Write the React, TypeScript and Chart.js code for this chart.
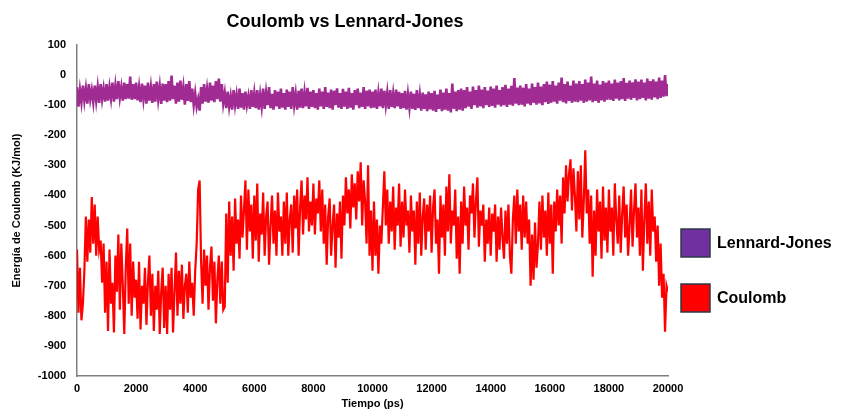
import React, { useEffect, useRef } from "react";
import { Chart, registerables } from "chart.js";

Chart.register(...registerables);

const TITLE = "Coulomb vs Lennard-Jones";
const X_TITLE = "Tiempo (ps)";
const Y_TITLE = "Energía de Coulomb (KJ/mol)";
const SERIES_NAMES = ["Lennard-Jones", "Coulomb"];
const TIME_STEP_PS = 50;

// Coulomb energy (KJ/mol), sampled every 50 ps from 0 to 20000 ps
const COULOMB: number[] = [
  -580, -790, -640, -815, -760, -650, -470, -620, -480, -590, -405, -560, -430, -600, -470, -580, -550, -690, -560, -790,
  -620, -850, -580, -760, -690, -855, -600, -720, -530, -780, -560, -700, -860, -640, -510, -760, -560, -800, -620, -740,
  -680, -810, -620, -845, -700, -760, -640, -830, -690, -600, -800, -660, -850, -700, -780, -650, -860, -720, -640, -840,
  -700, -860, -660, -780, -640, -855, -720, -590, -800, -650, -760, -630, -810, -700, -660, -790, -620, -740, -690, -800,
  -650, -560, -380, -350, -620, -760, -580, -700, -600, -780, -640, -570, -750, -620, -825, -680, -600, -760, -620, -780,
  -770, -460, -690, -420, -600, -470, -650, -410, -560, -480, -610, -400, -540, -450, -350, -580, -380, -520, -430, -610,
  -400, -550, -360, -620, -460, -530, -390, -600, -470, -420, -630, -500, -400, -560, -450, -600, -390, -520, -470, -600,
  -420, -560, -390, -600, -480, -430, -590, -400, -510, -380, -600, -440, -350, -530, -400, -480, -340, -520, -420, -500,
  -360, -530, -410, -460, -350, -520, -380, -560, -430, -630, -470, -410, -600, -500, -430, -640, -460, -540, -420, -610,
  -400, -500, -340, -460, -380, -510, -330, -440, -360, -480, -320, -420, -290, -500, -350, -420, -560, -300, -600, -450,
  -650, -420, -600, -480, -660, -500, -560, -440, -320, -500, -380, -560, -420, -520, -370, -580, -440, -500, -360, -570,
  -420, -540, -380, -500, -450, -590, -400, -520, -450, -630, -420, -560, -390, -600, -470, -410, -580, -430, -520, -400,
  -590, -440, -380, -560, -480, -660, -400, -540, -430, -600, -370, -520, -330, -560, -450, -500, -380, -610, -470, -660,
  -420, -560, -370, -500, -440, -580, -400, -460, -360, -540, -420, -340, -570, -450, -500, -430, -620, -480, -560, -440,
  -600, -460, -520, -430, -620, -470, -580, -440, -540, -610, -450, -560, -430, -600, -660, -480, -400, -560, -380, -520,
  -430, -580, -400, -540, -420, -560, -480, -700, -530, -680, -490, -640, -560, -420, -580, -400, -540, -450, -600, -390,
  -560, -430, -660, -420, -520, -380, -500, -400, -560, -340, -460, -300, -420, -330, -280, -450, -310, -400, -520, -320,
  -480, -300, -540, -420, -250, -460, -380, -560, -400, -670, -450, -600, -380, -520, -420, -610, -370, -550, -440, -590,
  -380, -520, -440, -600, -360, -480, -560, -400, -590, -460, -370, -540, -430, -600, -500, -380, -570, -450, -360, -540,
  -440, -600, -380, -650, -480, -360, -560, -420, -600, -380, -520, -470, -620, -500, -700, -560, -740, -660, -853, -700,
  -720,
];

// Lennard-Jones energy (KJ/mol), sampled every 50 ps from 0 to 20000 ps
const LENNARD_JONES: number[] = [
  -40, -105, -50, -90, -35, -85, -45, -95, -30, -80, -50, -90, -35, -85, -40, -92, -30, -80, -45, -88,
  -30, -85, -40, -78, -25, -88, -35, -80, -20, -75, -40, -85, -25, -80, -30, -78, -5, -82, -30, -80,
  -25, -84, -40, -90, -28, -80, -35, -95, -25, -85, -40, -92, -30, -88, -22, -80, -38, -96, -28, -85,
  -30, -90, -20, -85, -2, -80, -35, -95, -25, -88, -18, -82, -40, -98, -30, -86, -20, -90, -45, -100,
  -60, -105, -80, -118, -40, -95, -30, -88, -45, -92, -25, -85, -35, -90, -20, -80, -12, -88, -30, -94,
  -60, -110, -55, -105, -70, -115, -50, -100, -65, -112, -45, -108, -60, -115, -55, -100, -70, -112, -50, -106,
  -60, -110, -50, -115, -65, -105, -45, -112, -58, -100, -40, -110, -62, -115, -50, -104, -55, -112, -45, -108,
  -60, -115, -48, -106, -55, -112, -40, -100, -62, -115, -52, -108, -45, -110, -58, -104, -42, -112, -55, -106,
  -50, -110, -60, -115, -45, -104, -55, -112, -40, -106, -58, -110, -48, -115, -52, -100, -44, -108, -60, -112,
  -46, -105, -55, -112, -42, -108, -60, -115, -50, -100, -45, -110, -58, -106, -40, -112, -52, -104, -48, -110,
  -55, -108, -48, -112, -60, -104, -45, -110, -52, -100, -58, -112, -50, -106, -62, -110, -48, -104, -56, -112,
  -60, -110, -52, -115, -64, -108, -55, -112, -62, -116, -50, -110, -66, -118, -58, -112, -64, -120, -55, -114,
  -60, -118, -52, -122, -65, -112, -48, -120, -58, -115, -45, -118, -60, -124, -28, -112, -55, -120, -50, -115,
  -45, -118, -50, -110, -40, -105, -55, -112, -38, -100, -50, -108, -35, -104, -48, -110, -40, -100, -52, -106,
  -38, -102, -45, -108, -35, -98, -50, -104, -40, -100, -32, -106, -45, -98, -36, -102, -10, -95, -42, -100,
  -35, -98, -42, -104, -30, -95, -45, -100, -28, -92, -40, -98, -25, -94, -38, -100, -30, -90, -22, -96,
  -32, -92, -20, -88, -35, -95, -25, -85, -8, -90, -30, -94, -22, -86, -35, -92, -18, -88, -28, -90,
  -20, -85, -30, -92, -15, -88, -25, -84, -5, -90, -28, -86, -18, -92, -32, -84, -20, -88, -25, -82,
  -18, -82, -28, -86, -15, -78, -25, -84, -20, -80, -10, -86, -26, -78, -18, -82, -24, -76, -14, -84,
  -22, -80, -15, -76, -25, -84, -12, -78, -20, -82, -14, -74, -22, -80, -8, -76, -18, -72, 0, -70,
  -30,
];

const X_MIN = 0;
const X_MAX = 20000;
const X_STEP = 2000;
const Y_MIN = -1000;
const Y_MAX = 100;
const Y_STEP = 100;

const COLOR_LJ_LINE = "#a02b93";
const COLOR_LJ_LEGEND = "#7030a0";
const COLOR_COULOMB = "#ff0000";
const LEGEND_BORDER = "#2b3a4a";
const FONT = "'Liberation Sans', Arial, Helvetica, sans-serif";

const toPoints = (vals: number[]) => vals.map((v, i) => ({ x: i * TIME_STEP_PS, y: v }));

const overlayPlugin = {
  id: "overlay",
  afterDraw(chart: any) {
    const { ctx, chartArea } = chart;
    ctx.save();
    // title
    ctx.fillStyle = "#000";
    ctx.font = `bold 18px ${FONT}`;
    ctx.textAlign = "center";
    ctx.textBaseline = "middle";
    ctx.fillText(TITLE, chartArea.left + 268, 22);
    // legend
    const items = [
      { label: SERIES_NAMES[0], color: COLOR_LJ_LEGEND, cy: 243 },
      { label: SERIES_NAMES[1], color: COLOR_COULOMB, cy: 298 },
    ];
    const boxX = chartArea.right + 13;
    items.forEach((it) => {
      ctx.fillStyle = it.color;
      ctx.fillRect(boxX, it.cy - 14, 29, 28);
      ctx.strokeStyle = LEGEND_BORDER;
      ctx.lineWidth = 1.5;
      ctx.strokeRect(boxX, it.cy - 14, 29, 28);
      ctx.fillStyle = "#000";
      ctx.font = `bold 16px ${FONT}`;
      ctx.textAlign = "left";
      ctx.textBaseline = "middle";
      ctx.fillText(it.label, boxX + 36, it.cy + 1);
    });
    ctx.restore();
  },
};

export default function App() {
  const ref = useRef<HTMLCanvasElement | null>(null);

  useEffect(() => {
    if (!ref.current) return;
    Chart.defaults.font.family = FONT;
    const chart = new Chart(ref.current, {
      type: "line",
      data: {
        datasets: [
          {
            label: SERIES_NAMES[0],
            data: toPoints(LENNARD_JONES),
            borderColor: COLOR_LJ_LINE,
            backgroundColor: COLOR_LJ_LEGEND,
            borderWidth: 2.6,
            pointRadius: 0,
            tension: 0,
          },
          {
            label: SERIES_NAMES[1],
            data: toPoints(COULOMB),
            borderColor: COLOR_COULOMB,
            backgroundColor: COLOR_COULOMB,
            borderWidth: 2.2,
            pointRadius: 0,
            tension: 0,
          },
        ],
      },
      options: {
        animation: false,
        responsive: false,
        maintainAspectRatio: false,
        devicePixelRatio: 1,
        layout: { padding: { top: 45, right: 177, bottom: 0, left: 0 } },
        plugins: {
          legend: { display: false },
          title: { display: false },
          tooltip: { enabled: false },
        },
        scales: {
          x: {
            type: "linear",
            min: X_MIN,
            max: X_MAX,
            grid: { display: false, drawTicks: false },
            border: { display: true, color: "#7f7f7f", width: 1.5 },
            ticks: {
              stepSize: X_STEP,
              padding: 6,
              color: "#000",
              font: { size: 11, weight: "bold" },
              maxRotation: 0,
              callback: (v: any) => String(v),
            },
            title: {
              display: true,
              text: X_TITLE,
              color: "#000",
              font: { size: 11, weight: "bold" },
              padding: { top: 0, bottom: 1 },
            },
            afterFit: (s: any) => {
              s.height = 36;
            },
          },
          y: {
            type: "linear",
            min: Y_MIN,
            max: Y_MAX,
            grid: { display: false, drawTicks: false },
            border: { display: true, color: "#7f7f7f", width: 1.5 },
            ticks: {
              stepSize: Y_STEP,
              padding: 11,
              color: "#000",
              font: { size: 11, weight: "bold" },
              callback: (v: any) => String(v),
            },
            title: {
              display: true,
              text: Y_TITLE,
              color: "#000",
              font: { size: 11, weight: "bold" },
              padding: { top: 10, bottom: 0 },
            },
            afterFit: (s: any) => {
              s.width = 77;
            },
          },
        },
      },
      plugins: [overlayPlugin],
    });
    return () => chart.destroy();
  }, []);

  return (
    <div style={{ position: "fixed", left: 0, top: 0, width: 845, height: 412, background: "#fff" }}>
      <canvas ref={ref} width={845} height={412} style={{ width: 845, height: 412, display: "block" }} />
    </div>
  );
}
